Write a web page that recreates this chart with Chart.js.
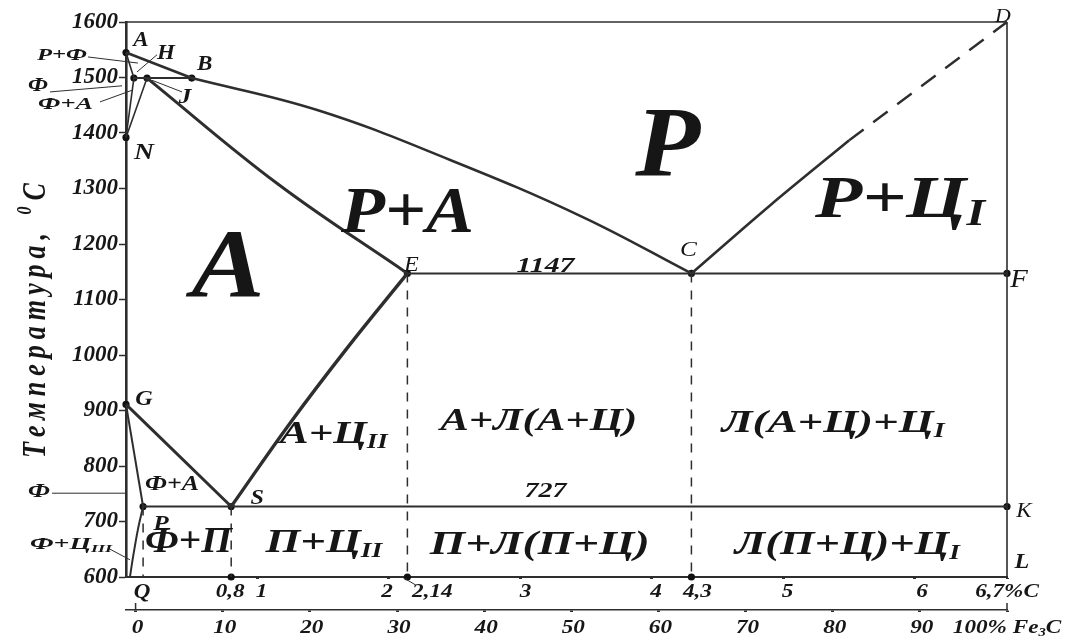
<!DOCTYPE html>
<html>
<head>
<meta charset="utf-8">
<script src="https://cdn.jsdelivr.net/npm/chart.js@4.4.1/dist/chart.umd.min.js"></script>
<style>
  html, body { margin: 0; padding: 0; background: #ffffff; }
  #wrap { width: 1073px; height: 641px; }
</style>
</head>
<body>
<div id="wrap"><canvas id="diagram" width="1073" height="641"></canvas></div>
<script>
// Iron–cementite (Fe–Fe3C) phase diagram: carbon content (%) vs temperature (°C)

// axis ticks
const TEMP_TICKS = [600, 700, 800, 900, 1000, 1100, 1200, 1300, 1400, 1500, 1600];
const CARBON_TICKS = [0.8, 1, 2, 2.14, 3, 4, 4.3, 5, 6, 6.7];
const CARBON_TICK_LABELS = ['0,8', '1', '2', '2,14', '3', '4', '4,3', '5', '6', '6,7%C'];
const FE3C_TICKS = [0, 10, 20, 30, 40, 50, 60, 70, 80, 90, 100];
const FE3C_TICK_LABELS = ['0', '10', '20', '30', '40', '50', '60', '70', '80', '90', '100% Fe'];

// characteristic points of the diagram
const POINT_NAMES  = ['A',  'H',  'J',  'B',  'N',  'E',  'C',  'F',  'G', 'P',  'S', 'K', 'D',  'L', 'Q'];
const POINT_CARBON = [0,    0.06, 0.16, 0.5,  0,    2.14, 4.3,  6.7,  0,   0.13, 0.8, 6.7, 6.7,  6.7, 0];
const POINT_TEMP   = [1545, 1499, 1499, 1499, 1392, 1147, 1147, 1147, 911, 727,  727, 727, 1600, 600, 600];
const MARKED_POINTS = ['A', 'H', 'J', 'B', 'N', 'E', 'C', 'F', 'G', 'P', 'S', 'K'];
const AXIS_FEET = ['S', 'E', 'C'];

// intermediate readings along the curved boundaries
const LIQUIDUS_BC = [[1.46, 1441], [2.47, 1351], [3.47, 1249]];
const LIQUIDUS_CD = [[4.9, 1270], [5.5, 1387]];
const SOLIDUS_JE  = [[1.15, 1309]];
const ACM_SE      = [[1.25, 878], [1.68, 1012]];
const SOLVUS_PQ   = [[0.09, 685], [0.05, 631], [0.03, 600]];

const TEMP_MIN = 600, TEMP_MAX = 1600, CARBON_MAX = 6.7;

const INK = '#2e2e2e';
const TEXT = '#161616';
const FONT = '"Liberation Serif", "Times New Roman", serif';

const idx = n => POINT_NAMES.indexOf(n);
const byName = n => ({ x: POINT_CARBON[idx(n)], y: POINT_TEMP[idx(n)] });
const toPt = p => (typeof p === 'string' ? byName(p) : { x: p[0], y: p[1] });

const lineSpecs = [
  { path: ['A', 'B'], width: 2.6 },
  { path: ['B', ...LIQUIDUS_BC, 'C'], width: 2.6, curve: 0.4 },
  { path: ['C', ...LIQUIDUS_CD], width: 2.6, curve: 0.3 },
  { path: [LIQUIDUS_CD[LIQUIDUS_CD.length - 1], 'D'], width: 2.4, dash: [18, 12] },
  { path: ['A', 'H'], width: 1.6 },
  { path: ['H', 'B'], width: 2 },
  { path: ['H', 'N'], width: 1.6 },
  { path: ['J', 'N'], width: 1.6 },
  { path: ['J', ...SOLIDUS_JE, 'E'], width: 3, curve: 0.4 },
  { path: ['E', 'F'], width: 2 },
  { path: ['G', 'S'], width: 3 },
  { path: ['G', 'P'], width: 2 },
  { path: ['P', ...SOLVUS_PQ], width: 2, curve: 0.3 },
  { path: ['S', ...ACM_SE, 'E'], width: 3.4, curve: 0.4 },
  { path: ['P', 'K'], width: 2 },
  { path: ['D', 'L'], width: 1.6 },
  { path: [[0, TEMP_MAX], 'D'], width: 1.6 },
  ...['P', 'S', 'E', 'C'].map(n => ({ path: [n, [byName(n).x, TEMP_MIN]], width: 1.5, dash: [9, 8] }))
];

const datasets = lineSpecs.map(s => ({
  data: s.path.map(toPt),
  showLine: true,
  borderColor: INK,
  borderWidth: s.width,
  borderDash: s.dash || [],
  pointRadius: 0,
  tension: s.curve || 0,
  fill: false,
  clip: false
}));

datasets.push({
  data: [...MARKED_POINTS.map(byName), ...AXIS_FEET.map(n => ({ x: byName(n).x, y: TEMP_MIN }))],
  showLine: false,
  pointRadius: 3.6,
  pointBackgroundColor: '#111',
  pointBorderWidth: 0,
  clip: false
});

// text: phase regions and side notes (position in carbon %, °C at the text baseline)
const TEXT_LABELS = [
  { text: 'Р', c: 4.12, t: 1324, size: 100, w: 65, align: 'center' },
  { text: 'Р+А', c: 2.14, t: 1222, size: 66, w: 133, align: 'center' },
  { text: 'А', c: 0.776, t: 1106, size: 98, w: 73, align: 'center' },
  { text: [{ t: 'Р+Ц' }, { t: 'I', sub: true }], c: 5.24, t: 1249, size: 60, w: 170 },
  { text: '1147', c: 3.19, t: 1150, size: 20, w: 58, align: 'center' },
  { text: '727', c: 3.19, t: 744, size: 20, w: 42, align: 'center' },
  { text: [{ t: 'А+Ц' }, { t: 'II', sub: true }], c: 1.17, t: 841, size: 32, w: 108 },
  { text: 'А+Л(А+Ц)', c: 2.39, t: 865, size: 32, w: 197 },
  { text: [{ t: 'Л(А+Ц)+Ц' }, { t: 'I', sub: true }], c: 4.53, t: 861, size: 32, w: 223 },
  { text: 'Ф+П', c: 0.144, t: 645, size: 36, w: 87 },
  { text: [{ t: 'П+Ц' }, { t: 'II', sub: true }], c: 1.06, t: 645, size: 34, w: 117 },
  { text: 'П+Л(П+Ц)', c: 2.31, t: 641, size: 34, w: 220 },
  { text: [{ t: 'Л(П+Ц)+Ц' }, { t: 'I', sub: true }], c: 4.63, t: 641, size: 34, w: 225 },
  { text: 'Ф+А', c: 0.144, t: 757, size: 20, w: 54 },
  { text: 'Р+Ф', c: -0.297, t: 1531, size: 17, w: 50, align: 'right' },
  { text: 'Ф', c: -0.593, t: 1476, size: 18, w: 20, align: 'right' },
  { text: 'Ф+А', c: -0.251, t: 1444, size: 17, w: 55, align: 'right' },
  { text: 'Ф', c: -0.578, t: 744, size: 19, w: 22, align: 'right' },
  { text: [{ t: 'Ф+Ц' }, { t: 'III', sub: true }], c: -0.73, t: 650, size: 17, w: 82 }
];

// point names: offset in px from the point, text baseline
const POINT_LABEL_STYLE = {
  A: { dx: 15, dy: -7, size: 20 },
  H: { dx: 32, dy: -19, size: 20 },
  J: { dx: 38, dy: 25, size: 22 },
  B: { dx: 13, dy: -8, size: 20 },
  N: { dx: 18, dy: 22, size: 24 },
  E: { dx: 4, dy: -2, size: 21, style: 'italic' },
  C: { dx: -3, dy: -17, size: 22, style: 'italic' },
  F: { dx: 12, dy: 14, size: 25, style: 'italic' },
  G: { dx: 18, dy: 1, size: 21 },
  P: { dx: 18, dy: 23, size: 22 },
  S: { dx: 26, dy: -3, size: 21 },
  K: { dx: 17, dy: 10, size: 20, style: 'italic' },
  D: { dx: -4, dy: 0, size: 19, style: 'italic' },
  L: { dx: 15, dy: -9, size: 21 },
  Q: { dx: 16, dy: 21, size: 20 }
};

// leader lines from side notes to their regions (carbon %, °C)
const LEADERS = [
  [[-0.289, 1537], [0.091, 1526]],
  [[-0.578, 1474], [-0.03, 1485]],
  [[-0.198, 1456], [0.046, 1477]],
  [[0.236, 1541], [0.084, 1510]],
  [[0.426, 1474], [0.198, 1495]],
  [[-0.563, 751], [0, 751]],
  [[-0.137, 652], [0.03, 631]],
  [[2.10, 600], [2.2, 586]]
];

const CARBON_LABEL_SHIFT = [-1, 4, -2, 25, 5, 4, 6, 4, 7, 0];

function drawRich(ctx, spec, x, y) {
  const size = spec.size;
  const style = spec.style || 'bold italic';
  const parts = typeof spec.text === 'string' ? [{ t: spec.text }] : spec.text;
  const fontOf = p => `${style} ${Math.round((p.sub || p.sup) ? size * 0.62 : size)}px ${FONT}`;
  const widths = [];
  let total = 0;
  parts.forEach(p => { ctx.font = fontOf(p); const w = ctx.measureText(p.t).width; widths.push(w); total += w; });
  const sx = spec.w ? spec.w / total : (spec.sx || 1);
  const start = spec.align === 'center' ? -total / 2 : spec.align === 'right' ? -total : 0;
  ctx.save();
  ctx.translate(x, y);
  if (spec.rotate) ctx.rotate(spec.rotate);
  ctx.scale(sx, spec.sy || 1);
  ctx.textAlign = 'left';
  ctx.textBaseline = 'alphabetic';
  ctx.fillStyle = TEXT;
  let cx = start;
  parts.forEach((p, i) => {
    ctx.font = fontOf(p);
    const dy = p.sub ? size * 0.14 : p.sup ? -size * 0.42 : 0;
    ctx.fillText(p.t, cx, dy);
    cx += widths[i];
  });
  ctx.restore();
}

const annotate = {
  id: 'annotate',
  afterDraw(chart) {
    const { ctx, scales: { x, y, x2 }, chartArea } = chart;
    const px = c => x.getPixelForValue(c);
    const py = t => y.getPixelForValue(t);
    ctx.save();

    ctx.strokeStyle = INK;
    ctx.lineWidth = 1;
    LEADERS.forEach(([a, b]) => {
      ctx.beginPath();
      ctx.moveTo(px(a[0]), py(a[1]));
      ctx.lineTo(px(b[0]), py(b[1]));
      ctx.stroke();
    });

    // end marks of the cementite scale
    ctx.lineWidth = 1.5;
    [FE3C_TICKS[0], FE3C_TICKS[FE3C_TICKS.length - 1]].forEach(v => {
      const xx = x2.getPixelForValue(v);
      ctx.beginPath();
      ctx.moveTo(xx, x2.top);
      ctx.lineTo(xx, x2.top - 7);
      ctx.stroke();
    });

    TEXT_LABELS.forEach(l => drawRich(ctx, { align: 'left', ...l }, px(l.c), py(l.t)));

    POINT_NAMES.forEach((n, i) => {
      const s = POINT_LABEL_STYLE[n];
      drawRich(ctx, { text: n, size: s.size, style: s.style, sx: 1.15, align: 'center' },
        px(POINT_CARBON[i]) + s.dx, py(POINT_TEMP[i]) + s.dy);
    });

    CARBON_TICKS.forEach((v, i) => {
      drawRich(ctx, { text: CARBON_TICK_LABELS[i], size: 19, sx: 1.22, align: 'center' },
        px(v) + CARBON_LABEL_SHIFT[i], x.top + 20);
    });

    FE3C_TICKS.forEach((v, i) => {
      const last = i === FE3C_TICKS.length - 1;
      const text = last ? [{ t: FE3C_TICK_LABELS[i] }, { t: '3', sub: true }, { t: 'C' }] : FE3C_TICK_LABELS[i];
      drawRich(ctx, { text, size: 19, sx: 1.22, align: 'center' },
        x2.getPixelForValue(v) + (last ? 0 : 2), x2.top + 23);
    });

    // axis title
    ctx.letterSpacing = '6px';
    drawRich(ctx, {
      text: [{ t: 'Температура, ' }, { t: '0', sup: true }, { t: 'C' }],
      size: 26, sy: 1.3, align: 'center', rotate: -Math.PI / 2
    }, chartArea.left - 81, (chartArea.top + chartArea.bottom) / 2 + 18);
    ctx.letterSpacing = '0px';

    ctx.restore();
  }
};

new Chart(document.getElementById('diagram'), {
  type: 'scatter',
  data: { datasets },
  plugins: [annotate],
  options: {
    responsive: false,
    animation: false,
    devicePixelRatio: 1,
    layout: { padding: { top: 22, right: 66, left: 0, bottom: 0 } },
    plugins: { legend: { display: false }, tooltip: { enabled: false } },
    scales: {
      y: {
        type: 'linear', position: 'left', min: TEMP_MIN, max: TEMP_MAX,
        afterBuildTicks: s => { s.ticks = TEMP_TICKS.map(v => ({ value: v })); },
        afterFit: s => { s.width = 126; },
        grid: { drawOnChartArea: false, drawTicks: true, tickLength: 7, color: INK, tickWidth: 1.5 },
        border: { display: true, color: INK, width: 2.6 },
        ticks: {
          color: TEXT, padding: 1,
          font: { family: FONT, size: 23, style: 'italic', weight: 'bold' },
          callback: v => String(v)
        }
      },
      x: {
        type: 'linear', position: 'bottom', min: 0, max: CARBON_MAX, weight: 0,
        afterBuildTicks: s => { s.ticks = CARBON_TICKS.map(v => ({ value: v })); },
        afterFit: s => { s.height = 33; },
        grid: { drawOnChartArea: false, drawTicks: true, tickLength: 2, tickWidth: 3, color: INK },
        border: { display: true, color: INK, width: 2 },
        ticks: { display: false }
      },
      x2: {
        type: 'linear', position: 'bottom', min: -1.1, max: 100, weight: 1,
        afterBuildTicks: s => { s.ticks = FE3C_TICKS.map(v => ({ value: v })); },
        afterFit: s => { s.height = 31; },
        grid: { drawOnChartArea: false, drawTicks: true, tickLength: 2, tickWidth: 3, color: INK },
        border: { display: true, color: INK, width: 1.5 },
        ticks: { display: false }
      }
    }
  }
});
</script>
</body>
</html>
